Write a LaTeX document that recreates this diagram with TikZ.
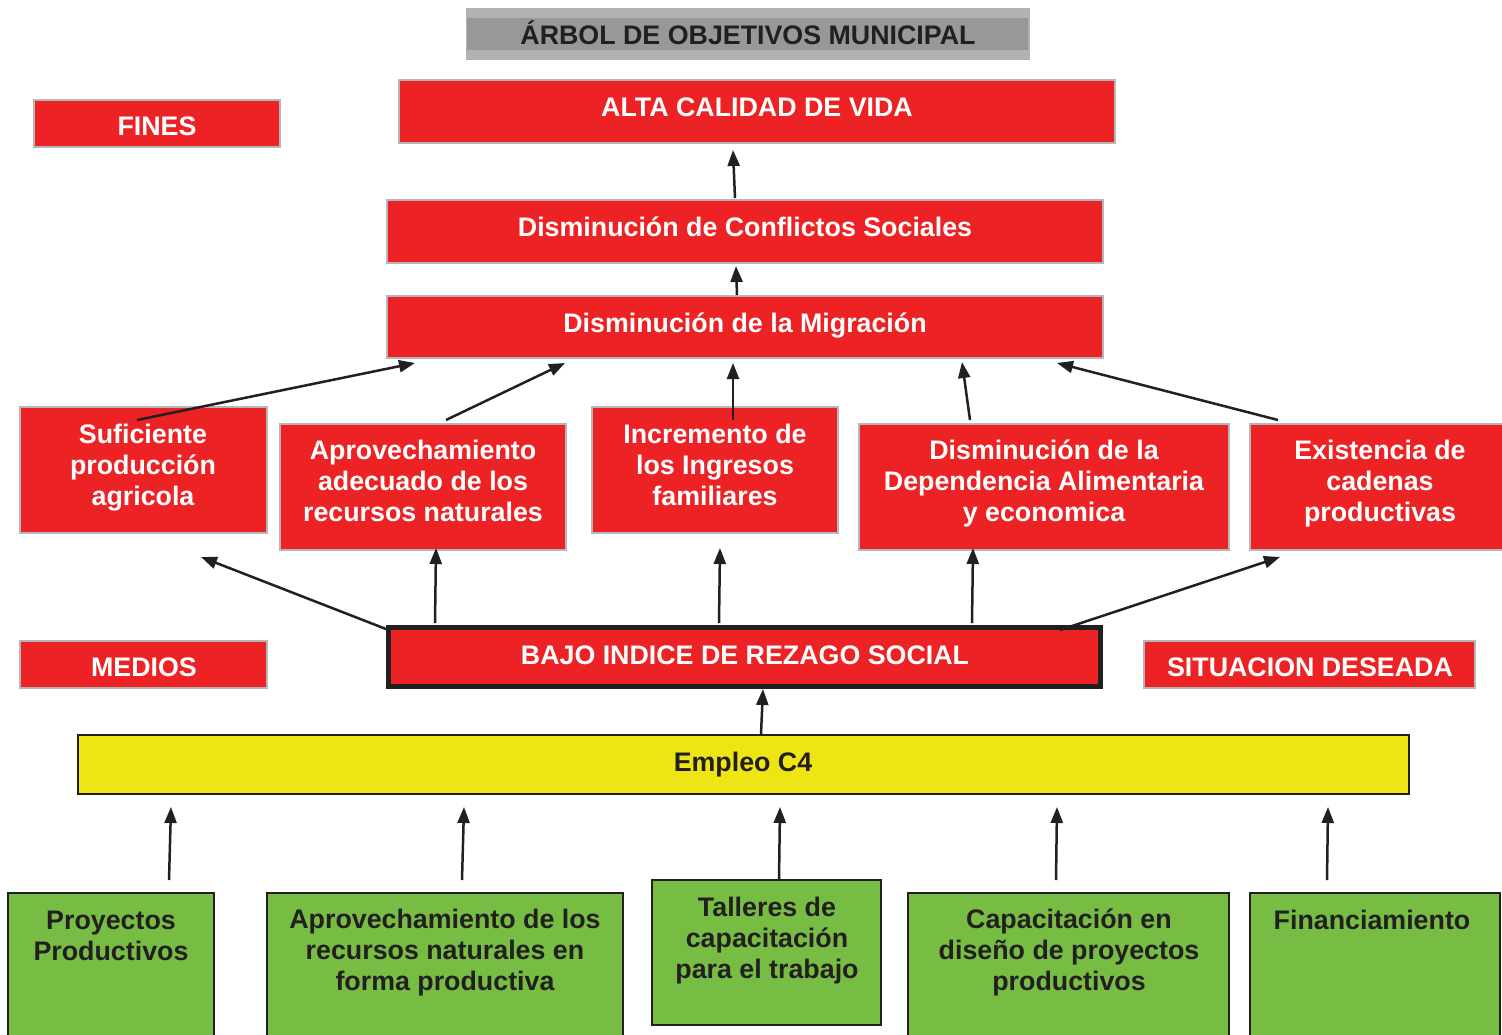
\documentclass[tikz,border=0pt]{standalone}
\usepackage{fontspec}
\setmainfont{Liberation Sans}
\usetikzlibrary{arrows.meta}
\definecolor{myred}{HTML}{ED2224}
\definecolor{bgray}{HTML}{B5B6B8}
\definecolor{dark}{HTML}{231F20}
\definecolor{mygreen}{HTML}{77BD43}
\definecolor{myyellow}{HTML}{EDE614}
\definecolor{tgrayA}{HTML}{B1B2B4}
\definecolor{tgrayB}{HTML}{97989A}
\newcommand{\sst}{\rule[-7pt]{0pt}{31pt}}
\begin{document}
\begin{tikzpicture}[x=1pt,y=-1pt,
 box/.style={rectangle, inner sep=0pt, outer sep=0pt},
 redbox/.style={box, fill=myred, draw=bgray, line width=2pt},
 greenbox/.style={box, fill=mygreen, draw=dark, line width=2pt},
 wtxt/.style={inner sep=0pt, align=center, text=white, font=\fontsize{26.8}{31}\selectfont\bfseries},
 dtxt/.style={wtxt, text=dark},
 arr/.style={draw=dark, line width=2.5pt, -{Triangle[length=16pt,width=12pt]}}]
\clip (0,0) rectangle (1502,1034);
\fill[white] (0,0) rectangle (1502,1034);

% title
\node[box, fill=tgrayA, minimum width=564pt, minimum height=52pt] (title) at (748,34) {};
\node[box, fill=tgrayB, minimum width=561pt, minimum height=32pt] (titleband) at (747.5,34) {};
\node[dtxt] (titlet) at (748,36) {\sst ÁRBOL DE OBJETIVOS MUNICIPAL};

% fines / medios / situacion
\node[redbox, minimum width=246pt, minimum height=47pt] (fines) at (157,123.5) {};
\node[wtxt] (finest) at (157,127) {\sst FINES};
\node[redbox, minimum width=247pt, minimum height=47pt] (medios) at (143.5,664.5) {};
\node[wtxt] (mediost) at (144,668) {\sst MEDIOS};
\node[redbox, minimum width=331pt, minimum height=47pt] (sit) at (1309.5,664.5) {};
\node[wtxt] (sitt) at (1310,668) {\sst SITUACION DESEADA};

% upper chain
\node[redbox, minimum width=716pt, minimum height=63pt] (alta) at (757,111.5) {};
\node[wtxt] (altat) at (757,108) {\sst ALTA CALIDAD DE VIDA};
\node[redbox, minimum width=716pt, minimum height=63pt] (conf) at (745,231.5) {};
\node[wtxt] (conft) at (745,228) {\sst Disminución de Conflictos Sociales};
\node[redbox, minimum width=716pt, minimum height=62pt] (migr) at (745,327) {};
\node[wtxt] (migrt) at (745,324) {\sst Disminución de la Migración};

% middle row
\node[redbox, minimum width=247pt, minimum height=126pt] (suf) at (143.5,470) {};
\node[wtxt] (suft) at (143,466) {\sst Suficiente\\\sst producción\\\sst agricola};
\node[redbox, minimum width=286pt, minimum height=126pt] (apro) at (423,487) {};
\node[wtxt] (aprot) at (423,482) {\sst Aprovechamiento\\\sst adecuado de los\\\sst recursos naturales};
\node[redbox, minimum width=246pt, minimum height=126pt] (incr) at (715,470) {};
\node[wtxt] (incrt) at (715,466) {\sst Incremento de\\\sst los Ingresos\\\sst familiares};
\node[redbox, minimum width=370pt, minimum height=126pt] (dep) at (1044,487) {};
\node[wtxt] (dept) at (1044,482) {\sst Disminución de la\\\sst Dependencia Alimentaria\\\sst y economica};
\node[redbox, minimum width=260pt, minimum height=126pt] (exis) at (1380,487) {};
\node[wtxt] (exist) at (1380,482) {\sst Existencia de\\\sst cadenas\\\sst productivas};

% bajo indice
\node[box, fill=myred, draw=dark, line width=5pt, minimum width=712pt, minimum height=59pt] (bajo) at (744.5,657) {};
\node[wtxt] (bajot) at (745,656) {\sst BAJO INDICE DE REZAGO SOCIAL};

% empleo
\node[box, fill=myyellow, draw=dark, line width=2pt, minimum width=1331pt, minimum height=59pt] (emp) at (743.5,764.5) {};
\node[dtxt] (empt) at (743,763) {\sst Empleo C4};

% green boxes
\node[greenbox, minimum width=206pt, minimum height=160pt] (proy) at (111,973) {};
\node[dtxt] (proyt) at (111,936) {\sst Proyectos\\\sst Productivos};
\node[greenbox, minimum width=356pt, minimum height=160pt] (aprn) at (445,973) {};
\node[dtxt] (aprnt) at (445,951) {\sst Aprovechamiento de los\\\sst recursos naturales en\\\sst forma productiva};
\node[greenbox, minimum width=229pt, minimum height=145pt] (tall) at (766.5,952.5) {};
\node[dtxt] (tallt) at (767,939) {\sst Talleres de\\\sst capacitación\\\sst para el trabajo};
\node[greenbox, minimum width=321pt, minimum height=160pt] (capa) at (1068.5,973) {};
\node[dtxt] (capat) at (1069,951) {\sst Capacitación en\\\sst diseño de proyectos\\\sst productivos};
\node[greenbox, minimum width=250pt, minimum height=160pt] (fin) at (1375,973) {};
\node[dtxt] (fint) at (1372,921) {\sst Financiamiento};

% connector end points
\coordinate (c1s) at (735,198); \coordinate (c1e) at (733,150);
\coordinate (c2s) at (737,295); \coordinate (c2e) at (736,266);
\coordinate (m1s) at (137,420); \coordinate (m1e) at (415,363);
\coordinate (m2s) at (446,420); \coordinate (m2e) at (565,363);
\coordinate (m3s) at (733,420); \coordinate (m3e) at (733,363);
\coordinate (m4s) at (970,420); \coordinate (m4e) at (962,362);
\coordinate (m5s) at (1278,420); \coordinate (m5e) at (1057,363);
\coordinate (b1s) at (386,629); \coordinate (b1e) at (201,557);
\coordinate (b2s) at (435,623); \coordinate (b2e) at (436,548);
\coordinate (b3s) at (719,623); \coordinate (b3e) at (720,548);
\coordinate (b4s) at (972,623); \coordinate (b4e) at (973,548);
\coordinate (b5s) at (1060,630); \coordinate (b5e) at (1280,557);
\coordinate (e1s) at (761,734); \coordinate (e1e) at (763,689);
\coordinate (g1s) at (169,880); \coordinate (g1e) at (171,807);
\coordinate (g2s) at (462,880); \coordinate (g2e) at (464,807);
\coordinate (g3s) at (779,880); \coordinate (g3e) at (780,807);
\coordinate (g4s) at (1056,880); \coordinate (g4e) at (1057,807);
\coordinate (g5s) at (1327,880); \coordinate (g5e) at (1328,807);

\foreach \a in {c1,c2,m1,m2,m3,m4,m5,b1,b2,b3,b4,b5,e1,g1,g2,g3,g4,g5}
  \draw[arr] (\a s) -- (\a e);
\end{tikzpicture}
\end{document}
